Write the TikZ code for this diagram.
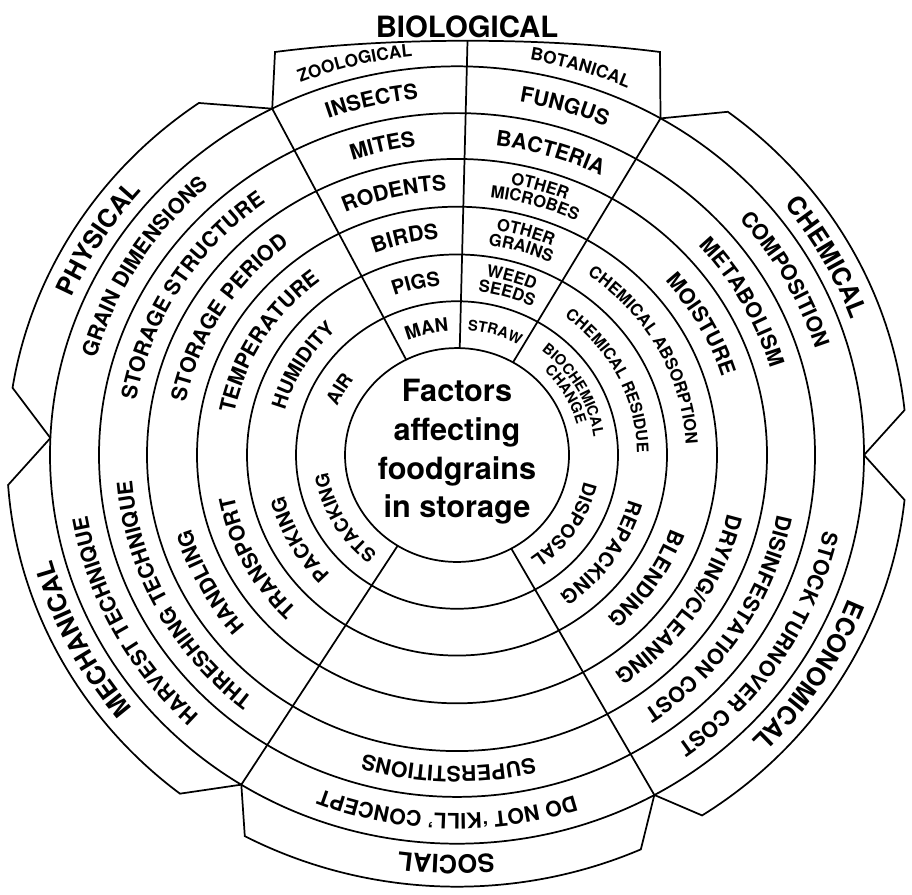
\documentclass[tikz,border=0pt]{standalone}
\usepackage{fontspec}
\setmainfont{TeX Gyre Heros}
\usetikzlibrary{decorations.text}

\tikzset{
  hubtext/.style={align=center, font=\fontsize{23}{29}\selectfont\bfseries, inner sep=0pt},
  headtext/.style={anchor=base, font=\fontsize{22}{22}\selectfont\bfseries, inner sep=0pt},
}

% label set along a clockwise arc: centre angle, half span, baseline radius, size, text
\newcommand{\ringtext}[5]{%
  \pgfmathsetmacro{\angA}{#1+#2}%
  \pgfmathsetmacro{\angB}{#1-#2}%
  \path[decorate, decoration={text along path, text align=center,
      text={|\fontsize{#4}{#4}\selectfont\bfseries|#5}}]
    (\angA:#3) arc[start angle=\angA, end angle=\angB, radius=#3];}

\begin{document}
\begin{tikzpicture}[x=0.75pt,y=0.75pt,yscale=-1,xscale=1,line width=1.3pt]
\useasboundingbox (0,0) rectangle (912,894);
\coordinate (bioTop) at (467.5,41);

\begin{scope}[shift={(457,455)},yscale=-0.955]
%Shape: Circle
\draw (0,0) circle[radius=112];
%Shape: Circle
\draw (0,0) circle[radius=161];
%Shape: Circle
\draw (0,0) circle[radius=210];
%Shape: Circle
\draw (0,0) circle[radius=260];
%Shape: Circle
\draw (0,0) circle[radius=310];
%Shape: Circle
\draw (0,0) circle[radius=358];
%Shape: Circle
\draw (0,0) circle[radius=407];

\coordinate (hubN) at (88.6:112);
\coordinate (jBP) at (117:407);
\coordinate (jBC) at (60:407);
\coordinate (nCE) at (0:407);
\coordinate (jES) at (299:407);
\coordinate (jSM) at (238:407);
\coordinate (nMP) at (177.5:407);

%Straight Lines
\draw (117:112) -- (jBP);
%Straight Lines
\draw (60:112) -- (jBC);
%Straight Lines
\draw (238:112) -- (jSM);
%Straight Lines
\draw (299:112) -- (jES);

%Shape: Physical lobe
\draw (jBP) -- (125:450) arc[start angle=125, end angle=171, radius=450] -- (nMP);
%Shape: Mechanical lobe
\draw (nMP) -- (184:450) arc[start angle=184, end angle=232, radius=450] -- (jSM);
%Shape: Social lobe
\draw (jSM) -- (242:452) arc[start angle=242, end angle=294, radius=452] -- (jES);
%Shape: Economical lobe
\draw (jES) -- (303:450) arc[start angle=303, end angle=354, radius=450] -- (nCE);
%Shape: Chemical lobe
\draw (nCE) -- (6:450) arc[start angle=6, end angle=53, radius=450] -- (jBC);

% Zoological
\ringtext{104}{13}{420}{13}{ZOOLOGICAL}
\ringtext{103}{13}{375}{16}{INSECTS}
\ringtext{103}{13}{326}{16}{MITES}
\ringtext{103}{13}{277}{16}{RODENTS}
\ringtext{103}{13}{227}{16}{BIRDS}
\ringtext{103}{13}{178}{15}{PIGS}
\ringtext{103}{13}{130}{14}{MAN}
% Botanical
\ringtext{73}{13}{420}{13}{BOTANICAL}
\ringtext{73.5}{13}{375}{16}{FUNGUS}
\ringtext{73.5}{13}{326}{16}{BACTERIA}
\ringtext{73.5}{13}{288.5}{12.5}{OTHER}
\ringtext{73.5}{13}{272}{12.5}{MICROBES}
\ringtext{73.5}{13}{238.5}{12.5}{OTHER}
\ringtext{73.5}{13}{222}{12.5}{GRAINS}
\ringtext{73.5}{13}{189}{12.5}{WEED}
\ringtext{73.5}{13}{172.5}{12.5}{SEEDS}
\ringtext{73.5}{13.5}{131}{11}{STRAW}
% Chemical
\ringtext{29}{27}{419}{19}{CHEMICAL}
\ringtext{29}{27}{375}{16}{COMPOSITION}
\ringtext{29}{27}{326}{16}{METABOLISM}
\ringtext{29}{27}{277}{16}{MOISTURE}
\ringtext{29}{29}{229}{12.5}{CHEMICAL ABSORPTION}
\ringtext{27}{27}{180}{12}{CHEMICAL RESIDUE}
\ringtext{30}{28}{138}{11}{BIOCHEMICAL}
\ringtext{30}{28}{124}{11}{CHANGE}
% Economical
\ringtext{327}{28}{419}{19}{ECONOMICAL}
\ringtext{327}{29}{375}{16}{STOCK TURNOVER COST}
\ringtext{327}{29}{326}{16}{DISINFESTATION COST}
\ringtext{326}{28}{277}{16}{DRYING/CLEANING}
\ringtext{326}{28}{227}{16}{BLENDING}
\ringtext{325}{28}{178}{15}{REPACKING}
\ringtext{326}{28}{130}{14}{DISPOSAL}
% Social
\ringtext{268.5}{28}{419}{19}{SOCIAL}
\ringtext{268.5}{29}{375}{16}{DO NOT `KILL' CONCEPT}
\ringtext{268.5}{28}{326}{16}{SUPERSTITIONS}
% Mechanical
\ringtext{207}{28}{419}{19}{MECHANICAL}
\ringtext{208}{29}{375}{16}{HARVEST TECHNIQUE}
\ringtext{208}{29}{326}{16}{THRESHING TECHNIQUE}
\ringtext{208}{28}{277}{16}{HANDLING}
\ringtext{208}{28}{227}{16}{TRANSPORT}
\ringtext{209}{28}{178}{15}{PACKING}
\ringtext{210}{28}{130}{14}{STACKING}
% Physical
\ringtext{148}{28}{419}{19}{PHYSICAL}
\ringtext{148}{28}{375}{16}{GRAIN DIMENSIONS}
\ringtext{148}{28}{326}{16}{STORAGE STRUCTURE}
\ringtext{148}{28}{277}{16}{STORAGE PERIOD}
\ringtext{148}{28}{227}{16}{TEMPERATURE}
\ringtext{149}{28}{178}{15}{HUMIDITY}
\ringtext{150}{28}{130}{14}{AIR}
\end{scope}

%Shape: Biological lobe
\draw (jBP) -- (275,52) .. controls (390,37) and (545,37) .. (660,52) -- (jBC);
%Straight Lines
\draw (hubN) -- (bioTop);

% Text Node
\node[hubtext] (factors) at (457,452) {Factors\\affecting\\foodgrains\\in storage};
% Text Node
\node[headtext] (biohead) at (467,37) {BIOLOGICAL};

\end{tikzpicture}
\end{document}
